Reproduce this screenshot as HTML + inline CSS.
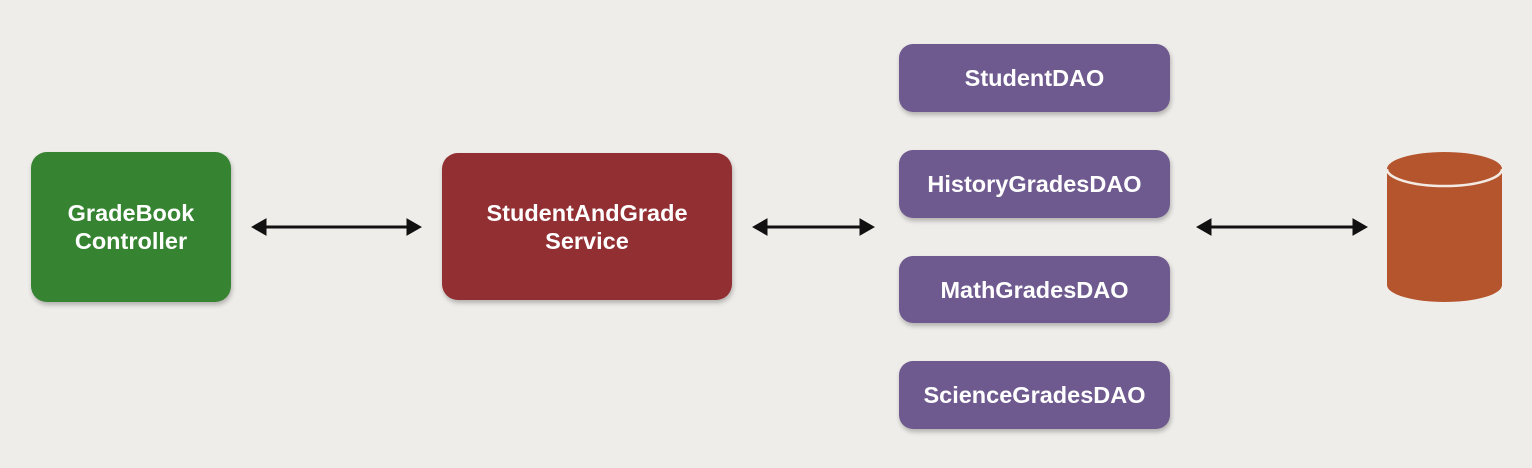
<!DOCTYPE html>
<html><head><style>
body{margin:0;width:1532px;height:468px;background:#efedea;position:relative;overflow:hidden;font-family:"Liberation Sans",sans-serif;}
.b{position:absolute;display:flex;align-items:center;justify-content:center;text-align:center;color:#fff;font-weight:bold;font-size:23.5px;line-height:28px;box-shadow:1px 3px 5px rgba(0,0,0,0.25);}
.p{background:#6e5a8f;border-radius:14px;left:899px;width:271px;height:68px;}
</style></head><body>
<div class="b" style="left:31px;top:152px;width:200px;height:150px;background:#368331;border-radius:16px;">GradeBook<br>Controller</div>
<div class="b" style="left:442px;top:153px;width:290px;height:147px;background:#922f33;border-radius:16px;">StudentAndGrade<br>Service</div>
<div class="b p" style="top:44px;">StudentDAO</div>
<div class="b p" style="top:150px;">HistoryGradesDAO</div>
<div class="b p" style="top:256px;height:67px;">MathGradesDAO</div>
<div class="b p" style="top:361px;">ScienceGradesDAO</div>
<svg width="1532" height="468" style="position:absolute;left:0;top:0">
<g stroke="#111" stroke-width="3" fill="#111">
<line x1="262" y1="227" x2="411" y2="227"/>
<polygon points="252,227 266,219 266,235" stroke-width="1"/>
<polygon points="421,227 407,219 407,235" stroke-width="1"/>
<line x1="763" y1="227" x2="864" y2="227"/>
<polygon points="753,227 767,219 767,235" stroke-width="1"/>
<polygon points="874,227 860,219 860,235" stroke-width="1"/>
<line x1="1207" y1="227" x2="1357" y2="227"/>
<polygon points="1197,227 1211,219 1211,235" stroke-width="1"/>
<polygon points="1367,227 1353,219 1353,235" stroke-width="1"/>
</g>
<path d="M1387,169 L1387,285 A57.5,17 0 0 0 1502,285 L1502,169 Z" fill="#b4552d"/>
<ellipse cx="1444.5" cy="169" rx="57.5" ry="17" fill="#b4552d"/>
<path d="M1387,169 A57.5,17 0 0 0 1502,169" fill="none" stroke="#f3ebe3" stroke-width="2.5"/>
</svg>
</body></html>
